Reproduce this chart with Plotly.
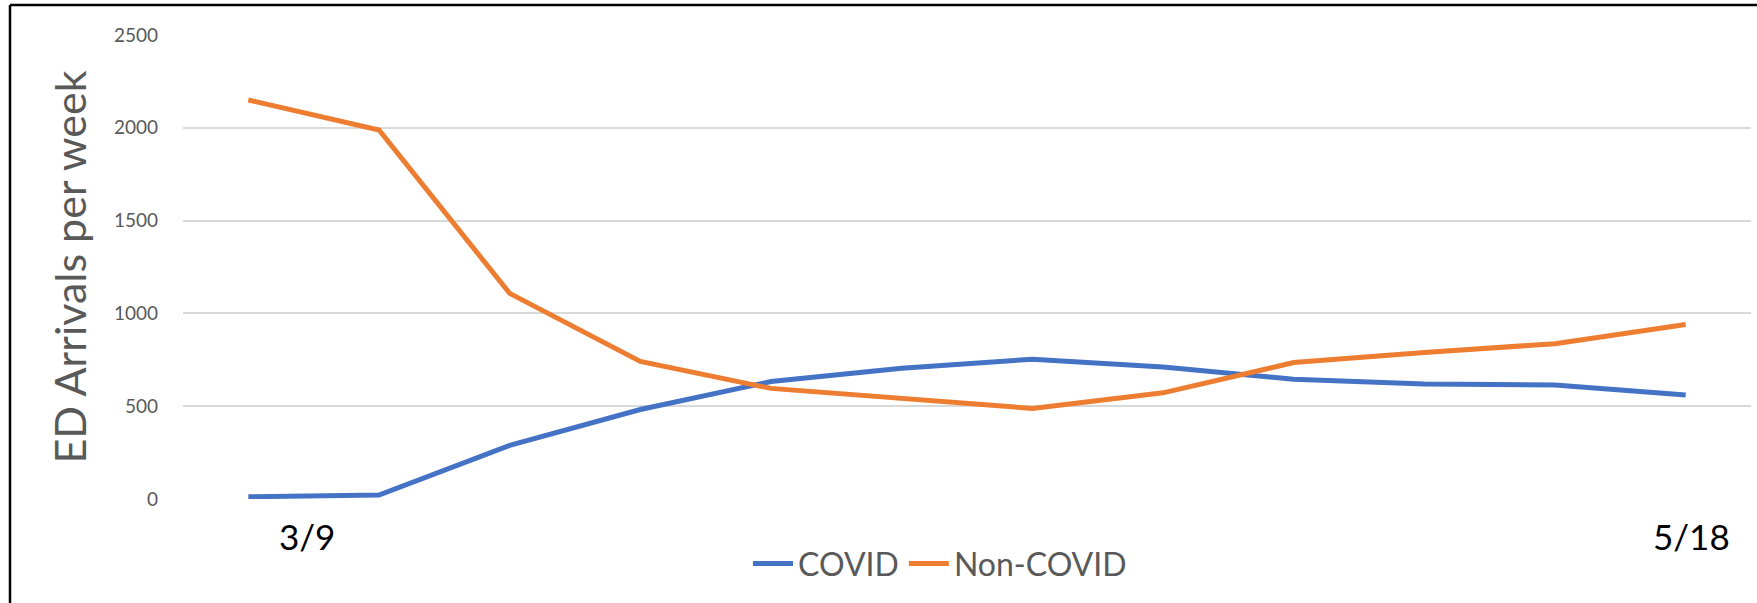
import plotly.graph_objects as go

weeks = ["3/9", "3/16", "3/23", "3/30", "4/6", "4/13", "4/20", "4/27", "5/4", "5/11", "5/18", "5/25"]
covid = [12, 21, 289, 482, 633, 705, 753, 711, 645, 620, 614, 560]
non_covid = [2150, 1988, 1108, 741, 596, 542, 488, 572, 735, 789, 837, 940]
y_ticks = [0, 500, 1000, 1500, 2000, 2500]
date_labels = [("3/9", 0, 59), ("5/18", 11, 6)]

W, H = 1757, 603
L, R, T, B = 183, 6, 35, 104
plot_w = W - L - R
plot_h = H - T - B

FONT = "Lato"
GREY = "#595959"

fig = go.Figure()
fig.add_trace(go.Scatter(x=weeks, y=covid, mode="lines", name="COVID",
                         line=dict(color="#4472C4", width=5)))
fig.add_trace(go.Scatter(x=weeks, y=non_covid, mode="lines", name="Non-COVID",
                         line=dict(color="#ED7D31", width=5)))

fig.update_layout(
    width=W, height=H,
    margin=dict(l=L, r=R, t=T, b=B, pad=0),
    paper_bgcolor="white", plot_bgcolor="white",
    font=dict(family=FONT, color=GREY),
    showlegend=True,
    legend=dict(orientation="h", x=(940 - L) / plot_w, xanchor="center",
                y=(H - B - 563.6) / plot_h, yanchor="middle",
                font=dict(size=32, color=GREY, family=FONT),
                bgcolor="rgba(0,0,0,0)", itemwidth=40, tracegroupgap=0),
    xaxis=dict(type="category", range=[-0.5, len(weeks) - 0.5],
               showticklabels=False, showgrid=False, zeroline=False,
               showline=False, ticks=""),
    yaxis=dict(range=[0, 2500], tickvals=y_ticks, ticks="",
               showgrid=True, gridcolor="#D9D9D9", gridwidth=1.5,
               zeroline=False, showline=False,
               tickfont=dict(size=19, color=GREY, family=FONT),
               ticklabelstandoff=24,
               title=dict(text="ED Arrivals per week", standoff=13,
                          font=dict(size=43, color=GREY, family=FONT))),
)

for text, idx, shift in date_labels:
    fig.add_annotation(x=weeks[idx], y=(H - B - 535.6) / plot_h, xref="x", yref="paper",
                       text=text, showarrow=False, xshift=shift,
                       xanchor="center", yanchor="middle",
                       font=dict(size=35, color="black", family=FONT))

# chart border (clipped at right/bottom as in reference)
x_left = (10 - L) / plot_w
y_top = (H - B - 5) / plot_h
fig.add_shape(type="line", xref="paper", yref="paper", x0=x_left, x1=1.1,
              y0=y_top, y1=y_top, line=dict(color="black", width=2.5))
fig.add_shape(type="line", xref="paper", yref="paper", x0=x_left, x1=x_left,
              y0=y_top, y1=-0.4, line=dict(color="black", width=2.5))

fig.write_html("out.html", config={"displayModeBar": False},
               post_script="document.body.style.margin='0';document.body.style.overflow='hidden';")
